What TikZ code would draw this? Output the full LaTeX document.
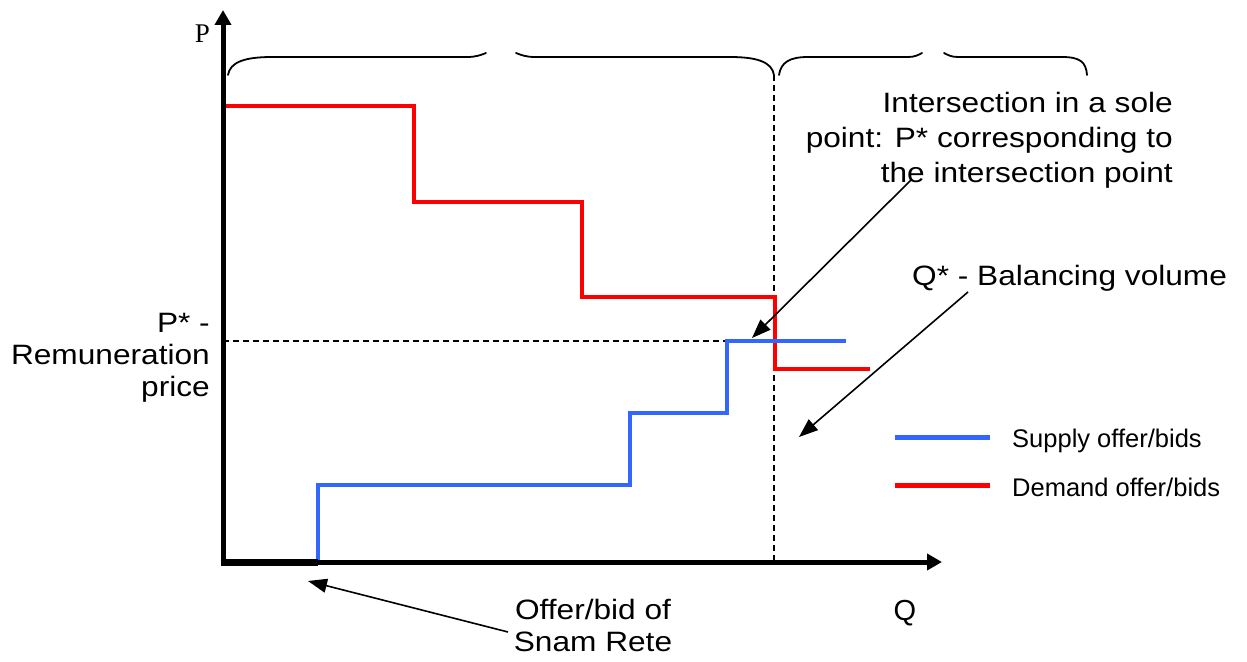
\documentclass[tikz,border=0pt]{standalone}
\usepackage{fontspec}
\setmainfont{Liberation Serif}
\newfontfamily\labfont[FakeStretch=1.13]{Liberation Sans}
\newfontfamily\legfont{Liberation Sans}
\usetikzlibrary{arrows.meta}
\definecolor{supblue}{RGB}{51,102,255}
\definecolor{demred}{RGB}{255,0,0}
\tikzset{
  axisline/.style={line width=5pt, -{Triangle[length=15pt,width=16pt]}},
  bracepath/.style={line width=1.8pt, line cap=round},
  guide/.style={line width=1.5pt, dash pattern=on 6pt off 4pt},
  curve/.style={line width=4.5pt, line join=miter},
  ann/.style={line width=1.6pt, -{Triangle[length=19pt,width=14pt]}},
  lab/.style={inner sep=0pt, font={\labfont\fontsize{28}{34.7}\selectfont}},
  labtight/.style={inner sep=0pt, font={\labfont\fontsize{28}{32}\selectfont}},
  leg/.style={inner sep=0pt, font={\legfont\fontsize{25.5}{30}\selectfont}},
}
\begin{document}
\begin{tikzpicture}[x=1pt,y=-1pt]
\useasboundingbox (0,0) rectangle (1247,661);

% braces
\draw[bracepath] (228,75) .. controls (230,62) and (245,57) .. (272,57) -- (467,57) .. controls (476,57) and (481,55) .. (486,53);
\draw[bracepath] (516,53) .. controls (521,55) and (526,57) .. (535,57) -- (730,57) .. controls (757,57) and (772,62) .. (774,75);
\draw[bracepath] (779,75) .. controls (781,62) and (790,57) .. (808,57) -- (908,57) .. controls (915,57) and (918,55) .. (922,53);
\draw[bracepath] (944,53) .. controls (948,55) and (951,57) .. (958,57) -- (1062,57) .. controls (1080,57) and (1086,62) .. (1087,75);

% guides
\draw[guide] (223,341) -- (727,341);
\draw[guide] (774,75) -- (774,562);

% curves
\draw[curve, demred] (223,106) -- (414,106) -- (414,202) -- (582,202) -- (582,297) -- (775,297) -- (775,369) -- (870,369);
\draw[curve, supblue] (318,562) -- (318,485) -- (630,485) -- (630,413) -- (727,413) -- (727,341) -- (846,341);

% axes
\draw[axisline] (223,565) -- (223,10);
\draw[axisline] (220.5,562) -- (942,562);
\draw[line width=6.5pt] (221,562.5) -- (318,562.5);

% labels
\node[anchor=base, inner sep=0pt, font=\fontsize{27}{30}\selectfont] (plab) at (202.5,43) {P};
\node[anchor=base, inner sep=0pt, font={\legfont\fontsize{29}{32}\selectfont}] (qlab) at (905,620) {Q};
\node[lab, anchor=north east, align=right] (inter) at (1173,92.5) {Intersection in a sole\\point: P* corresponding to\\the intersection point};
\node[lab, anchor=base west] (qstar) at (912,285) {Q* - Balancing volume};
\node[labtight, anchor=north east, align=right] (pstar) at (210,313) {P* -\\Remuneration\\price};
\node[labtight, anchor=north, align=center] (snam) at (593,599.5) {Offer/bid of\\Snam Rete};

% legend
\coordinate (lbA) at (895,437);
\coordinate (lbB) at (990,437);
\coordinate (lrA) at (895,485);
\coordinate (lrB) at (990,485);
\draw[line width=5pt, supblue] (lbA) -- (lbB);
\draw[line width=5pt, demred] (lrA) -- (lrB);
\node[leg, anchor=base west] (supply) at (1012,447) {Supply offer/bids};
\node[leg, anchor=base west] (demand) at (1012,496) {Demand offer/bids};

% annotation arrows
\coordinate (a1s) at (912,179);
\coordinate (a1e) at (752,338);
\coordinate (a2s) at (968,292);
\coordinate (a2e) at (799,437);
\coordinate (a3s) at (508,632);
\coordinate (a3e) at (308,581);
\draw[ann] (a1s) -- (a1e);
\draw[ann] (a2s) -- (a2e);
\draw[ann] (a3s) -- (a3e);
\end{tikzpicture}
\end{document}
